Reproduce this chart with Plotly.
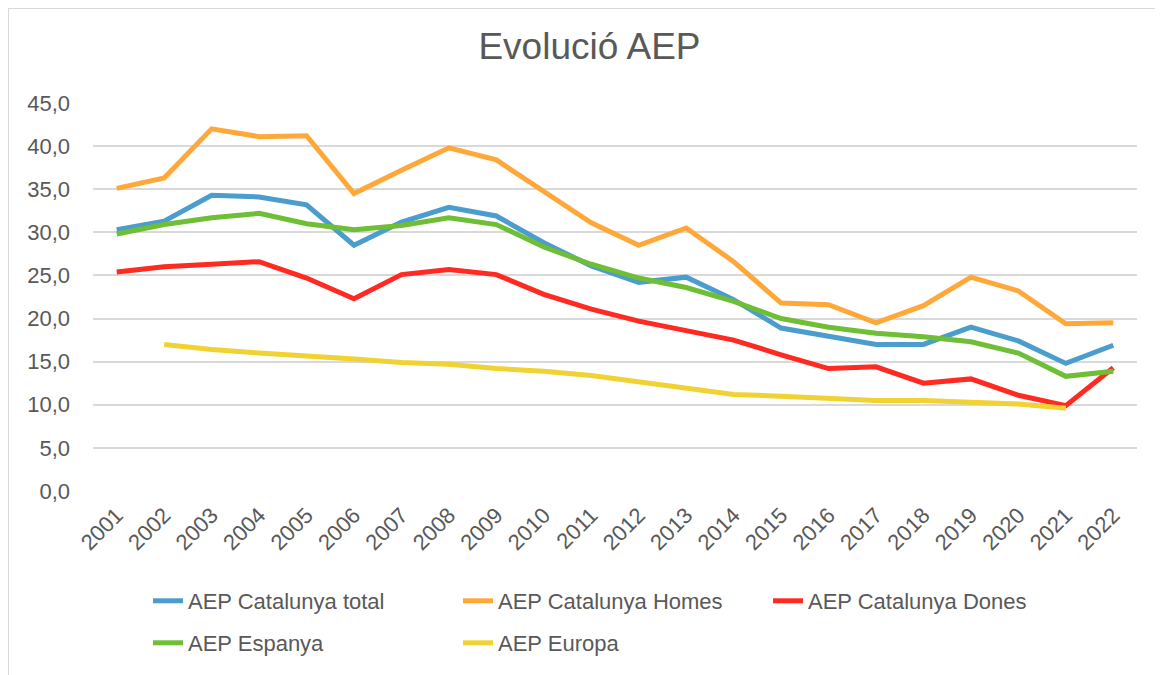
import plotly.graph_objects as go

years = [str(y) for y in range(2001, 2023)]

cat_total = [30.3, 31.3, 34.3, 34.1, 33.2, 28.5, 31.2, 32.9, 31.9, 28.8, 26.1,
             24.2, 24.8, 22.2, 18.9, 18.0, 17.0, 17.0, 19.0, 17.4, 14.8, 16.9]
cat_homes = [35.1, 36.3, 42.0, 41.1, 41.2, 34.5, 37.2, 39.8, 38.4, 34.8, 31.1,
             28.5, 30.5, 26.6, 21.8, 21.6, 19.5, 21.5, 24.8, 23.2, 19.4, 19.5]
cat_dones = [25.4, 26.0, 26.3, 26.6, 24.7, 22.3, 25.1, 25.7, 25.1, 22.8, 21.1,
             19.7, 18.6, 17.5, 15.8, 14.2, 14.4, 12.5, 13.0, 11.1, 9.9, 14.3]
espanya = [29.8, 30.9, 31.7, 32.2, 31.0, 30.3, 30.8, 31.7, 30.9, 28.3, 26.3,
           24.7, 23.6, 22.0, 20.0, 19.0, 18.3, 17.9, 17.3, 16.0, 13.3, 13.9]
europa = [None, 17.0, 16.4, 16.0, 15.7, 15.3, 14.9, 14.7, 14.2, 13.9, 13.4,
          12.7, 11.9, 11.2, 11.0, 10.7, 10.5, 10.5, 10.3, 10.1, 9.6, None]

series = [
    ("AEP Catalunya total", cat_total, "#4A9DCC", "legend"),
    ("AEP Catalunya Homes", cat_homes, "#FFA83A", "legend"),
    ("AEP Catalunya Dones", cat_dones, "#FF2A22", "legend"),
    ("AEP Espanya", espanya, "#6EBE36", "legend2"),
    ("AEP Europa", europa, "#F0D232", "legend2"),
]

W, H = 1163, 675
# page body adds an 8 px offset; figure coords = screen coords - 8
ml, mt = 85, 95
mr = W - 1129
mb = H - 483

fig = go.Figure()
for name, vals, col, leg in series:
    fig.add_trace(go.Scatter(x=years, y=vals, name=name, mode="lines",
                             line=dict(color=col, width=5), legend=leg))

pw = W - ml - mr
ph = H - mt - mb

def px_x(x):
    return (x - ml) / pw

def px_y(y):
    return (H - mb - y) / ph

legfont = dict(size=22, color="#595959")
fig.update_layout(
    width=W, height=H,
    margin=dict(l=ml, r=mr, t=mt, b=mb, autoexpand=False),
    paper_bgcolor="white", plot_bgcolor="white",
    separators=", ",
    font=dict(family="Liberation Sans, Arial, sans-serif", color="#595959", size=22),
    title=dict(text="Evolució AEP", x=0.5, xanchor="center", y=1 - 38 / H, yanchor="middle",
               font=dict(size=37, color="#595959")),
    xaxis=dict(type="category", range=[-0.5, 21.5], tickangle=-45, showgrid=False,
               zeroline=False, showline=False, ticks="", automargin=False,
               ticklabelstandoff=6,
               tickfont=dict(size=22, color="#595959")),
    yaxis=dict(range=[0, 45], dtick=5, tickformat=".1f", showgrid=True,
               gridcolor="#D9D9D9", gridwidth=2, zeroline=False, showline=False,
               ticks="", automargin=False, ticklabelstandoff=22,
               tickfont=dict(size=22, color="#595959")),
    legend=dict(orientation="h", x=px_x(140), xanchor="left", y=px_y(572), yanchor="top",
                entrywidth=265, entrywidthmode="pixels", bgcolor="rgba(0,0,0,0)",
                font=legfont),
    legend2=dict(orientation="h", x=px_x(140), xanchor="left", y=px_y(614), yanchor="top",
                 entrywidth=265, entrywidthmode="pixels", bgcolor="rgba(0,0,0,0)",
                 font=legfont),
    showlegend=True,
    shapes=[dict(type="rect", xref="paper", yref="paper",
                 x0=px_x(0), x1=px_x(1200), y0=px_y(720), y1=px_y(0),
                 line=dict(color="#D9D9D9", width=2), fillcolor="rgba(0,0,0,0)",
                 layer="below")],
)

fig.write_html("out.html")
